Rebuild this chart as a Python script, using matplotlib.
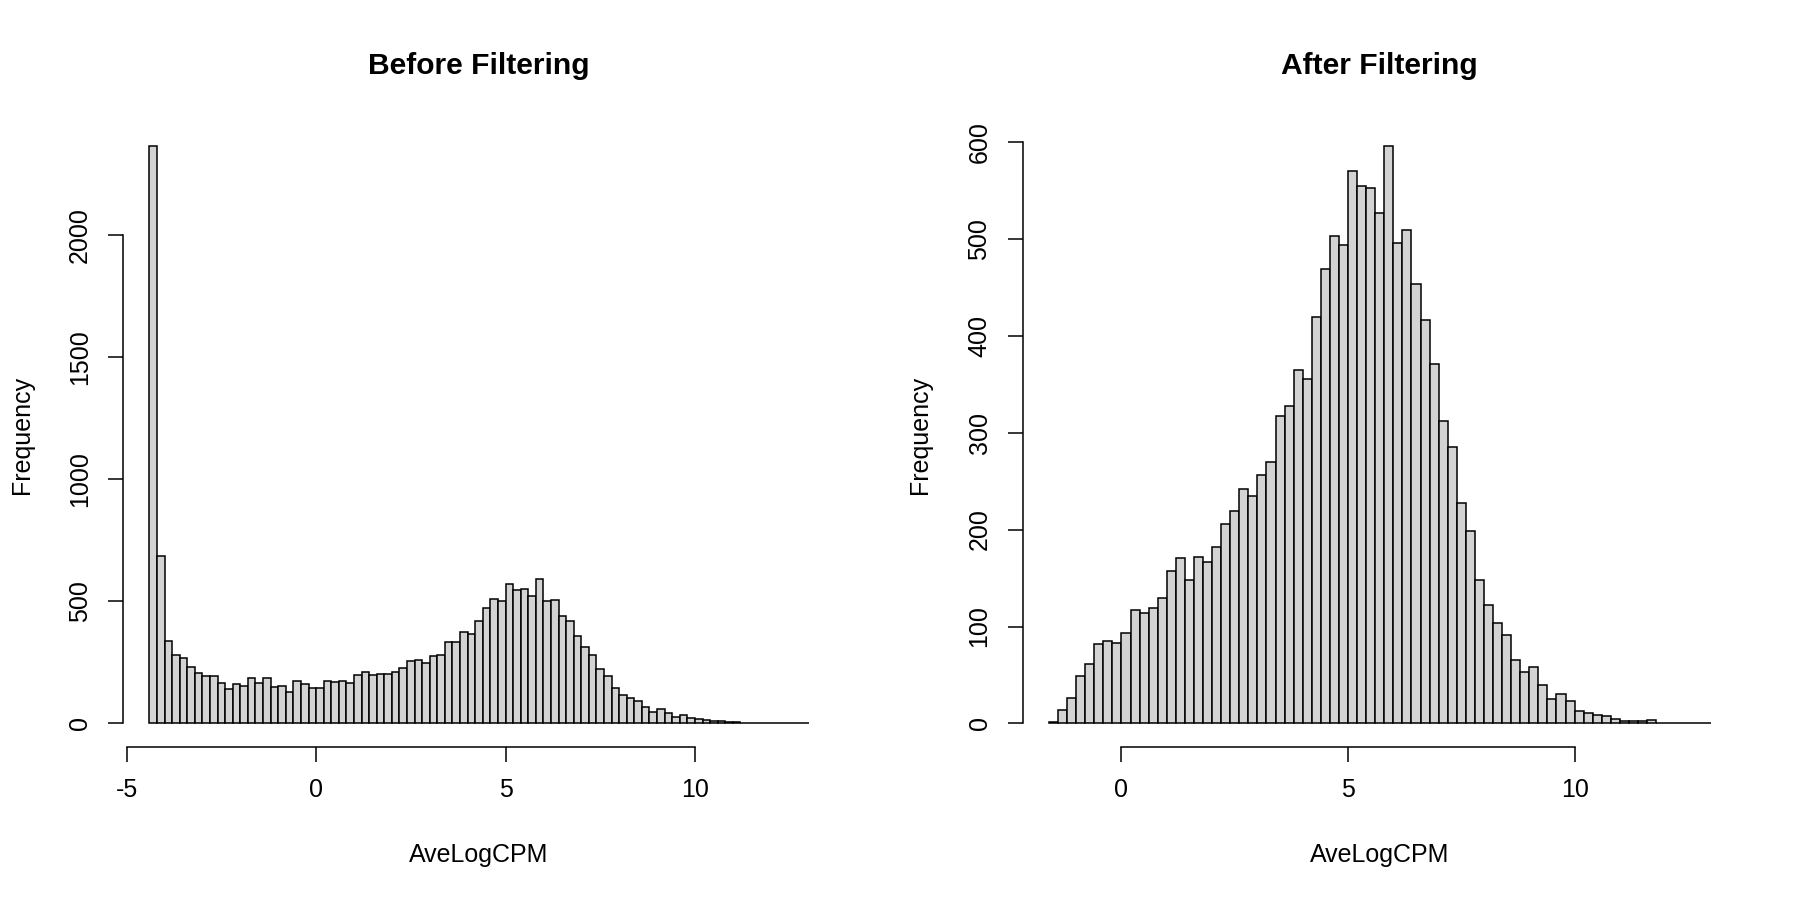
import matplotlib
matplotlib.use("Agg")
import matplotlib.pyplot as plt
import numpy as np

plt.rcParams['font.family'] = ['Liberation Sans', 'DejaVu Sans']

# ---- data ----
bin_width = 0.2
before_start = -4.4
before_counts = [2366, 685, 336, 280, 267, 230, 208, 194, 194, 167,
                 143, 162, 152, 188, 166, 185, 151, 152, 129, 175,
                 163, 147, 145, 174, 168, 174, 164, 197, 212, 198,
                 204, 204, 209, 226, 257, 261, 248, 275, 280, 335,
                 335, 373, 368, 421, 474, 511, 500, 570, 548, 549,
                 520, 593, 500, 505, 440, 421, 359, 314, 282, 224,
                 194, 147, 118, 104, 91, 66, 48, 60, 41, 26,
                 34, 23, 18, 14, 11, 10, 7, 6, 4, 4,
                 3, 3, 2, 2, 1, 1, 1]
after_start = -1.6
after_counts = [2, 14, 26, 49, 61, 82, 85, 83, 93, 117,
                114, 119, 129, 157, 171, 148, 172, 167, 182, 206,
                219, 242, 235, 256, 270, 317, 327, 365, 355, 419,
                469, 503, 493, 570, 554, 552, 526, 596, 495, 509,
                453, 416, 371, 312, 285, 227, 199, 148, 122, 104,
                91, 65, 53, 58, 40, 25, 30, 23, 13, 11,
                9, 8, 5, 3, 3, 3, 4, 1, 0, 0,
                0, 0, 1]
titles = ["Before Filtering", "After Filtering"]
xlabel = "AveLogCPM"
ylabel = "Frequency"
before_xticks = [-5, 0, 5, 10]
before_yticks = [0, 500, 1000, 1500, 2000]
after_xticks = [0, 5, 10]
after_yticks = [0, 100, 200, 300, 400, 500, 600]

W, H = 1800, 900
fig = plt.figure(figsize=(18, 9), dpi=100)

def px(x, y):
    return x / W, 1 - y / H

def panel(rect, start, counts, xticks, yticks, title):
    ax = fig.add_axes(rect)
    n = len(counts)
    edges = np.round(start + bin_width * np.arange(n + 1), 6)
    ax.bar(edges[:-1], counts, width=bin_width, align='edge',
           color='#D3D3D3', edgecolor='black', linewidth=1.1)
    x0, x1 = edges[0], edges[-1]
    pad = 0.04 * (x1 - x0)
    ax.set_xlim(x0 - pad, x1 + pad)
    ymax = max(counts)
    ax.set_ylim(-0.04 * ymax, ymax * 1.04)
    for s in ['top', 'right']:
        ax.spines[s].set_visible(False)
    ax.spines['left'].set_bounds(yticks[0], yticks[-1])
    ax.spines['bottom'].set_bounds(xticks[0], xticks[-1])
    for s in ['left', 'bottom']:
        ax.spines[s].set_linewidth(1.1)
    ax.set_xticks(xticks)
    ax.set_yticks(yticks)
    ax.set_xticklabels([str(t) for t in xticks])
    ax.set_yticklabels([str(t) for t in yticks], rotation=90, va='center')
    ax.tick_params(axis='both', direction='out', length=10.8, width=1.1,
                   labelsize=18)
    ax.tick_params(axis='x', pad=12)
    ax.tick_params(axis='y', pad=11.5)
    ax.set_facecolor('none')
    return ax

# plot regions (pixel coords measured from reference)
left_rect = [123 / W, 1 - 746.6 / H, (835 - 123) / W, (746.6 - 122.4) / H]
right_rect = [1022.5 / W, 1 - 746.6 / H, (1737 - 1022.5) / W, (746.6 - 122.4) / H]

axL = panel(left_rect, before_start, before_counts, before_xticks, before_yticks, titles[0])
axR = panel(right_rect, after_start, after_counts, after_xticks, after_yticks, titles[1])

for (xl, xr), ylab_x, title in [((123, 835), 28.5, titles[0]),
                                ((1022.5, 1737), 927.5, titles[1])]:
    cx = (xl + xr) / 2
    fig.text(*px(cx, 74), title, ha='center', va='baseline',
             fontsize=21.6, fontweight='bold')
    fig.text(*px(cx, 862), xlabel, ha='center', va='baseline', fontsize=18)
    fig.text(*px(ylab_x, 434.5), ylabel, ha='center', va='baseline',
             rotation=90, rotation_mode='anchor', fontsize=18)

fig.savefig("out.png", dpi=100, facecolor='white')
